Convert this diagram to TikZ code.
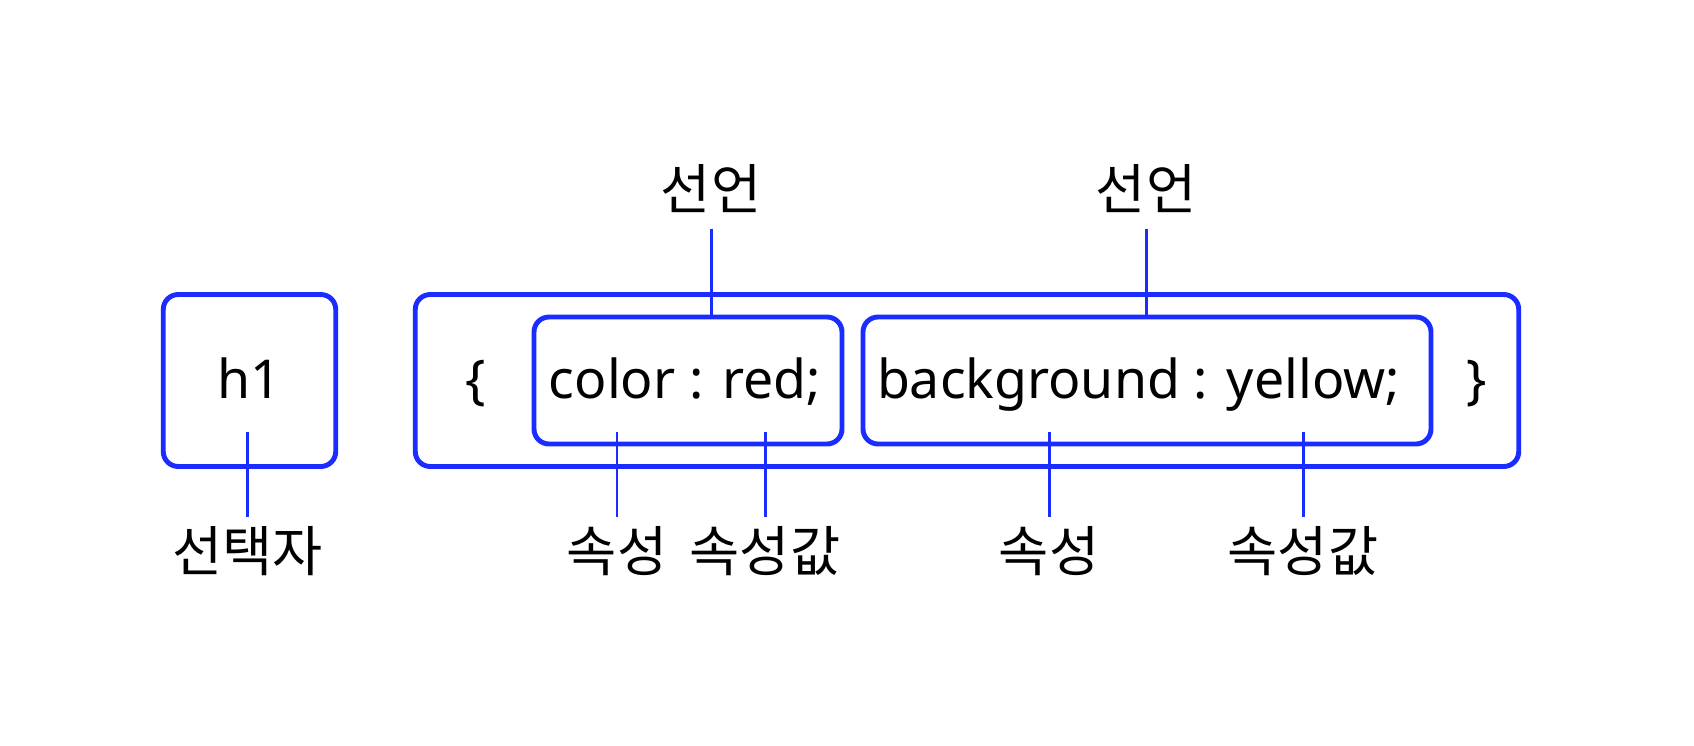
\documentclass[tikz,border=0pt]{standalone}
\usepackage{fontspec}
\setmainfont{Noto Sans}
\newfontfamily\kofont{Noto Sans CJK KR}
\usetikzlibrary{positioning,calc}
\definecolor{cssblue}{RGB}{26,44,255}

\begin{document}
\begin{tikzpicture}[
  font=\fontsize{30.5}{36}\selectfont,
  row/.style={inner sep=0pt, text height=24.4pt, text depth=3.5pt},
  box/.style={row, draw=cssblue, line width=2.8pt, rounded corners=0.3cm},
  outerbox/.style={box, minimum height=3.44cm},
  innerbox/.style={box, minimum height=2.54cm},
  conn/.style={draw=cssblue, line width=1.7pt},
  lbl/.style={font=\kofont\fontsize{31}{36}\selectfont, inner sep=0pt}
]
\useasboundingbox (0,0) rectangle (33.88,-14.92);

% left: selector
\node[outerbox, minimum width=3.45cm] (h1box) at (4.99,-7.61) {h1};

% right: declaration block
\node[outerbox, minimum width=22.07cm] (block) at (19.34,-7.61) {};
\node[row] (lbrace) at (9.52,-7.61) {\{};
\node[row] (rbrace) at (29.54,-7.61) {\}};
\node[innerbox, minimum width=6.16cm] (decl1) at (13.76,-7.61) {};
\node[innerbox, minimum width=11.36cm] (decl2) at (22.94,-7.61) {};
\node[row] (decl1txt) at (13.70,-7.61) {color : red;};
\node[row] (decl2txt) at (22.77,-7.61) {background : yellow;};

% labels above
\coordinate (d1top) at (14.22,-4.57);
\coordinate (d2top) at (22.92,-4.57);
\node[lbl, above=0.31cm of d1top] (d1lbl) {선언};
\node[lbl, above=0.31cm of d2top] (d2lbl) {선언};
\draw[conn] (d1top) -- (d1top |- decl1.north);
\draw[conn] (d2top) -- (d2top |- decl2.north);

% labels below
\coordinate (selTop) at (4.954,-8.64);
\coordinate (selEnd) at (4.954,-10.34);
\coordinate (p1top) at (12.34,-8.64);
\coordinate (p1end) at (12.34,-10.34);
\coordinate (v1top) at (15.30,-8.64);
\coordinate (v1end) at (15.30,-10.34);
\coordinate (p2top) at (20.98,-8.64);
\coordinate (p2end) at (20.98,-10.34);
\coordinate (v2top) at (26.06,-8.64);
\coordinate (v2end) at (26.06,-10.34);

\node[lbl, below=0.18cm of selEnd] (selLbl) {선택자};
\node[lbl, below=0.18cm of p1end] (p1lbl) {속성};
\node[lbl, below=0.18cm of v1end] (v1lbl) {속성값};
\node[lbl, below=0.18cm of p2end] (p2lbl) {속성};
\node[lbl, below=0.18cm of v2end] (v2lbl) {속성값};

\draw[conn] (selTop) -- (selEnd);
\draw[conn] (p1top) -- (p1end);
\draw[conn] (v1top) -- (v1end);
\draw[conn] (p2top) -- (p2end);
\draw[conn] (v2top) -- (v2end);

\end{tikzpicture}
\end{document}
